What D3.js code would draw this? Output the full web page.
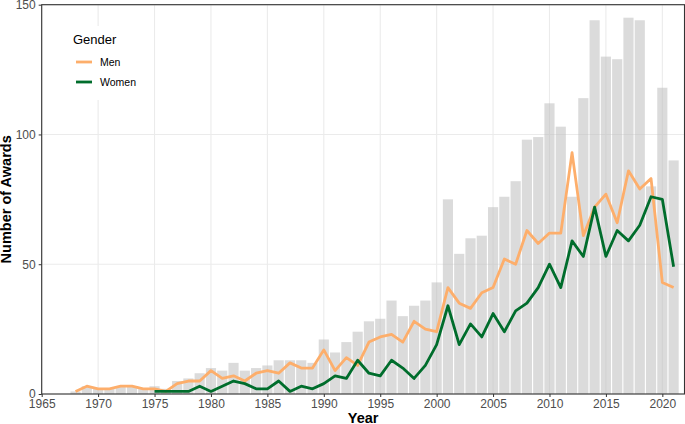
<!DOCTYPE html>
<html>
<head>
<meta charset="utf-8">
<script src="https://cdn.jsdelivr.net/npm/d3@7"></script>
<style>
  body { margin: 0; background: #fff; }
  svg { display: block; font-family: "Liberation Sans", Arial, sans-serif; }
</style>
</head>
<body>
<div id="main"></div>
<script>
const years = [1968, 1969, 1970, 1971, 1972, 1973, 1974, 1975, 1976, 1977,
  1978, 1979, 1980, 1981, 1982, 1983, 1984, 1985, 1986, 1987,
  1988, 1989, 1990, 1991, 1992, 1993, 1994, 1995, 1996, 1997,
  1998, 1999, 2000, 2001, 2002, 2003, 2004, 2005, 2006, 2007,
  2008, 2009, 2010, 2011, 2012, 2013, 2014, 2015, 2016, 2017,
  2018, 2019, 2020, 2021];
const totalAwards = [1, 3, 2, 2, 3, 3, 2, 3, 2, 5,
  6, 8, 10, 9, 12, 9, 10, 11, 13, 13,
  13, 12, 21, 16, 20, 24, 28, 29, 36, 30,
  34, 36, 43, 75, 54, 60, 61, 72, 76, 82,
  98, 99, 112, 103, 76, 114, 144, 130, 129, 145,
  144, 80, 118, 90];
const menAwards = [1, 3, 2, 2, 3, 3, 2, 2, 1, 4,
  5, 5, 9, 6, 7, 5, 8, 9, 8, 12,
  10, 10, 17, 9, 14, 11, 20, 22, 23, 20,
  28, 25, 24, 41, 35, 33, 39, 41, 52, 50,
  63, 58, 62, 62, 93, 61, 72, 77, 66, 86,
  79, 83, 43, 41];
// no women before 1975
const womenAwards = [null, null, null, null, null, null, null, 1, 1, 1,
  1, 3, 1, 3, 5, 4, 2, 2, 5, 1,
  3, 2, 4, 7, 6, 13, 8, 7, 13, 10,
  6, 11, 19, 34, 19, 27, 22, 31, 24, 32,
  35, 41, 50, 41, 59, 53, 72, 53, 63, 59,
  65, 76, 75, 49];
const xTicks = [1965, 1970, 1975, 1980, 1985, 1990, 1995, 2000, 2005, 2010, 2015, 2020];
const yTicks = [0, 50, 100, 150];
const genders = ["Men", "Women"];
const genderColors = ["#fdae6b", "#006d2c"];

const width = 685;
const height = 424;
const margin = { top: 4.7, right: 0.5, bottom: 30, left: 41.7 };

const svg = d3.select('#main').append('svg')
  .attr('width', width)
  .attr('height', height);

const x = d3.scaleLinear()
  .domain([1965, 2022])
  .range([margin.left, 684.9]);

const y = d3.scaleLinear()
  .domain([0, 150])
  .range([height - margin.bottom, margin.top]);

// grid
svg.append('g')
  .selectAll('line.gx')
  .data(xTicks)
  .join('line')
  .attr('x1', d => x(d)).attr('x2', d => x(d))
  .attr('y1', y(0)).attr('y2', y(150))
  .attr('stroke', '#ebebeb')
  .attr('stroke-width', 1.1);

svg.append('g')
  .selectAll('line.gy')
  .data(yTicks)
  .join('line')
  .attr('x1', x(1965)).attr('x2', width - margin.right)
  .attr('y1', d => y(d)).attr('y2', d => y(d))
  .attr('stroke', '#ebebeb')
  .attr('stroke-width', 1.1);

// bars, semi transparent so the grid shows through
const barWidth = (x(1) - x(0)) * 0.9;
svg.append('g')
  .selectAll('rect')
  .data(years)
  .join('rect')
  .attr('x', (d) => x(d) - barWidth / 2)
  .attr('y', (d, i) => y(totalAwards[i]))
  .attr('width', barWidth)
  .attr('height', (d, i) => y(0) - y(totalAwards[i]))
  .attr('fill', '#bdbdbd')
  .attr('fill-opacity', 0.55);

// lines
const series = [menAwards, womenAwards];
const line = d3.line()
  .defined(d => d[1] != null)
  .x(d => x(d[0]))
  .y(d => y(d[1]));

series.forEach((vals, k) => {
  svg.append('path')
    .datum(years.map((yr, i) => [yr, vals[i]]))
    .attr('d', line)
    .attr('fill', 'none')
    .attr('stroke', genderColors[k])
    .attr('stroke-width', 2.8)
    .attr('stroke-linejoin', 'round');
});

// axes
const xAxis = svg.append('g')
  .attr('transform', `translate(0, ${y(0)})`)
  .call(d3.axisBottom(x).tickValues(xTicks).tickFormat(d3.format('d')).tickSize(3).tickPadding(2));

const yAxis = svg.append('g')
  .attr('transform', `translate(${x(1965)}, 0)`)
  .call(d3.axisLeft(y).tickValues(yTicks).tickSize(3).tickPadding(3));

[xAxis, yAxis].forEach(g => {
  g.select('.domain').remove();
  g.selectAll('.tick line').attr('stroke', '#333');
  g.selectAll('.tick text')
    .attr('fill', '#4d4d4d')
    .style('font-size', '12px')
    .style('font-family', '"Liberation Sans", Arial, sans-serif');
});

// panel border
svg.append('rect')
  .attr('x', x(1965))
  .attr('y', y(150))
  .attr('width', width - margin.right - x(1965))
  .attr('height', y(0) - y(150))
  .attr('fill', 'none')
  .attr('stroke', '#333')
  .attr('stroke-width', 1.1);

// axis titles
svg.append('text')
  .attr('x', (x(1965) + width - margin.right) / 2)
  .attr('y', 423)
  .attr('text-anchor', 'middle')
  .style('font-size', '14.5px')
  .style('font-weight', 'bold')
  .text('Year');

svg.append('text')
  .attr('transform', `translate(10.5, ${(y(0) + y(150)) / 2}) rotate(-90)`)
  .attr('text-anchor', 'middle')
  .style('font-size', '14.5px')
  .style('font-weight', 'bold')
  .text('Number of Awards');

// legend
const legend = svg.append('g');
legend.append('rect')
  .attr('x', 62).attr('y', 26)
  .attr('width', 84).attr('height', 74)
  .attr('fill', '#fff');

legend.append('text')
  .attr('x', 73).attr('y', 44)
  .style('font-size', '13px')
  .text('Gender');

genders.forEach((g, i) => {
  legend.append('line')
    .attr('x1', 76).attr('x2', 92)
    .attr('y1', 62 + i * 20).attr('y2', 62 + i * 20)
    .attr('stroke', genderColors[i])
    .attr('stroke-width', 2.8);
  legend.append('text')
    .attr('x', 100).attr('y', 62 + i * 20)
    .attr('dy', '0.35em')
    .style('font-size', '10.5px')
    .text(g);
});
</script>
</body>
</html>
